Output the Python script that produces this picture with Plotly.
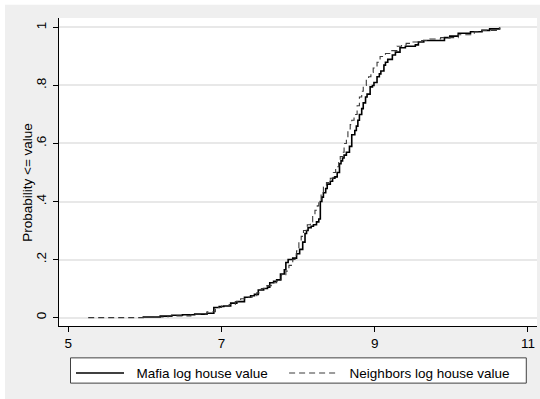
import plotly.graph_objects as go

mafia_x = [5.97, 6.2, 6.35, 6.49, 6.65, 6.81, 6.9, 6.97, 7.03, 7.12, 7.2, 7.3, 7.38, 7.43, 7.48, 7.55,
           7.6, 7.63, 7.68, 7.72, 7.77, 7.82, 7.84, 7.87, 7.93, 7.98, 8.02, 8.06, 8.09, 8.11, 8.13,
           8.17, 8.2, 8.24, 8.27, 8.29, 8.31, 8.33, 8.36, 8.38, 8.42, 8.45, 8.48, 8.51, 8.54, 8.56,
           8.58, 8.6, 8.63, 8.67, 8.7, 8.74, 8.76, 8.78, 8.8, 8.83, 8.85, 8.88, 8.9, 8.94, 8.97,
           8.99, 9.03, 9.06, 9.08, 9.12, 9.14, 9.17, 9.23, 9.27, 9.33, 9.4, 9.53, 9.57, 9.64, 9.91,
           9.98, 10.09, 10.25, 10.4, 10.5, 10.63]
mafia_p = [0.002, 0.005, 0.008, 0.01, 0.012, 0.015, 0.035, 0.038, 0.04, 0.05, 0.055, 0.07, 0.075, 0.08, 0.095, 0.1,
           0.105, 0.12, 0.125, 0.13, 0.15, 0.165, 0.19, 0.2, 0.205, 0.22, 0.235, 0.26, 0.29, 0.3, 0.31,
           0.315, 0.32, 0.33, 0.34, 0.4, 0.415, 0.43, 0.445, 0.46, 0.47, 0.48, 0.485, 0.5, 0.53, 0.54,
           0.55, 0.56, 0.57, 0.59, 0.63, 0.645, 0.66, 0.68, 0.7, 0.72, 0.74, 0.76, 0.77, 0.795, 0.8,
           0.81, 0.83, 0.84, 0.85, 0.87, 0.88, 0.89, 0.905, 0.915, 0.93, 0.935, 0.94, 0.95, 0.955, 0.965,
           0.97, 0.98, 0.985, 0.99, 0.995, 1.0]

neighbors_x = [5.26, 5.98, 6.3, 6.6, 6.81, 6.92, 7.0, 7.1, 7.18, 7.25, 7.33, 7.4, 7.46, 7.52, 7.58,
               7.65, 7.72, 7.78, 7.84, 7.88, 7.93, 7.96, 7.98, 8.01, 8.04, 8.07, 8.12, 8.16, 8.19,
               8.22, 8.25, 8.27, 8.3, 8.33, 8.37, 8.42, 8.46, 8.49, 8.53, 8.55, 8.58, 8.6, 8.63, 8.65,
               8.68, 8.7, 8.73, 8.77, 8.8, 8.83, 8.85, 8.89, 8.92, 8.95, 8.98, 9.03, 9.07, 9.14, 9.2,
               9.29, 9.35, 9.41, 9.5, 9.59, 9.72, 9.86, 10.09, 10.3, 10.4, 10.63]
neighbors_p = [0.0, 0.002, 0.006, 0.012, 0.02, 0.035, 0.04, 0.045, 0.055, 0.065, 0.07, 0.075, 0.085, 0.1, 0.11,
               0.12, 0.13, 0.145, 0.16, 0.18, 0.2, 0.215, 0.23, 0.26, 0.28, 0.3, 0.32, 0.33, 0.35,
               0.37, 0.385, 0.4, 0.43, 0.45, 0.465, 0.48, 0.5, 0.52, 0.54, 0.555, 0.57, 0.6, 0.62, 0.65,
               0.665, 0.68, 0.7, 0.73, 0.76, 0.78, 0.8, 0.82, 0.83, 0.845, 0.86, 0.88, 0.9, 0.91, 0.92,
               0.935, 0.94, 0.945, 0.95, 0.955, 0.96, 0.965, 0.975, 0.985, 0.99, 1.0]

series_names = ["Mafia log house value", "Neighbors log house value"]
x_ticks = [5, 7, 9, 11]
y_ticks = [0, 0.2, 0.4, 0.6, 0.8, 1]
y_tick_labels = ["0", ".2", ".4", ".6", ".8", "1"]
y_title = "Probability <= value"

FONT = "Liberation Sans, Arial, sans-serif"
BG = "#EFEFEF"
NB = "\u00a0"

fig = go.Figure()
fig.add_trace(go.Scatter(x=mafia_x, y=mafia_p, mode="lines", line_shape="hv",
                         line=dict(color="#000000", width=1.6),
                         name=NB * 2 + series_names[0] + NB * 3))
fig.add_trace(go.Scatter(x=neighbors_x, y=neighbors_p, mode="lines", line_shape="hv",
                         line=dict(color="#3a3a3a", width=1.1, dash="6px,4px"),
                         name=NB * 2 + series_names[1] + NB * 2))

W, H = 540, 399
L, R, T, B = 59, 3.3, 18.3, 73.3
pw, ph = W - L - R, H - T - B

def px_x(p):
    return (p - L) / pw

def px_y(p):
    return 1 - (p - T) / ph

# thin white strips at the top and left edges of the image
fig.add_shape(type="rect", xref="paper", yref="paper", x0=px_x(0), x1=px_x(5), y0=px_y(H), y1=px_y(0),
              fillcolor="white", line_width=0, layer="above")
fig.add_shape(type="rect", xref="paper", yref="paper", x0=px_x(0), x1=px_x(W), y0=px_y(5), y1=px_y(0),
              fillcolor="white", line_width=0, layer="above")
# legend frame
fig.add_shape(type="rect", xref="paper", yref="paper", x0=px_x(70.5), x1=px_x(526), y0=px_y(382.7),
              y1=px_y(357.5), fillcolor="white", line=dict(color="#404040", width=1), layer="above")

# y-axis title placed like the reference
fig.add_annotation(text=y_title, xref="paper", yref="paper", x=px_x(28), y=px_y(181.7),
                   xanchor="center", yanchor="middle", textangle=-90, showarrow=False,
                   font=dict(family=FONT, size=13.5, color="#000000"))

fig.update_layout(
    width=W, height=H,
    margin=dict(l=L, r=R, t=T, b=B, pad=0),
    paper_bgcolor=BG, plot_bgcolor="white",
    font=dict(family=FONT, size=13.5, color="#000000"),
    showlegend=True,
    legend=dict(orientation="h", x=px_x(71), xanchor="left", y=px_y(357.3), yanchor="top",
                bgcolor="rgba(0,0,0,0)", borderwidth=0,
                font=dict(family=FONT, size=13.5, color="#000000"),
                itemwidth=48, traceorder="normal"),
    xaxis=dict(range=[4.879, 11.118], tickvals=x_ticks, ticks="outside", ticklen=5,
               tickcolor="#000000", showline=True, linecolor="#000000", linewidth=1,
               showgrid=False, zeroline=False, mirror=False,
               tickfont=dict(family=FONT, size=13.5)),
    yaxis=dict(range=[-0.029, 1.0325], tickvals=y_ticks, ticktext=y_tick_labels, tickangle=-90,
               ticks="outside", ticklen=5, tickcolor="#000000", showline=True,
               linecolor="#000000", linewidth=1, showgrid=True, gridcolor="#E8E8E8", gridwidth=1.5,
               zeroline=False, ticklabelstandoff=2, tickfont=dict(family=FONT, size=13.5)),
)

fig.write_html("out.html")
